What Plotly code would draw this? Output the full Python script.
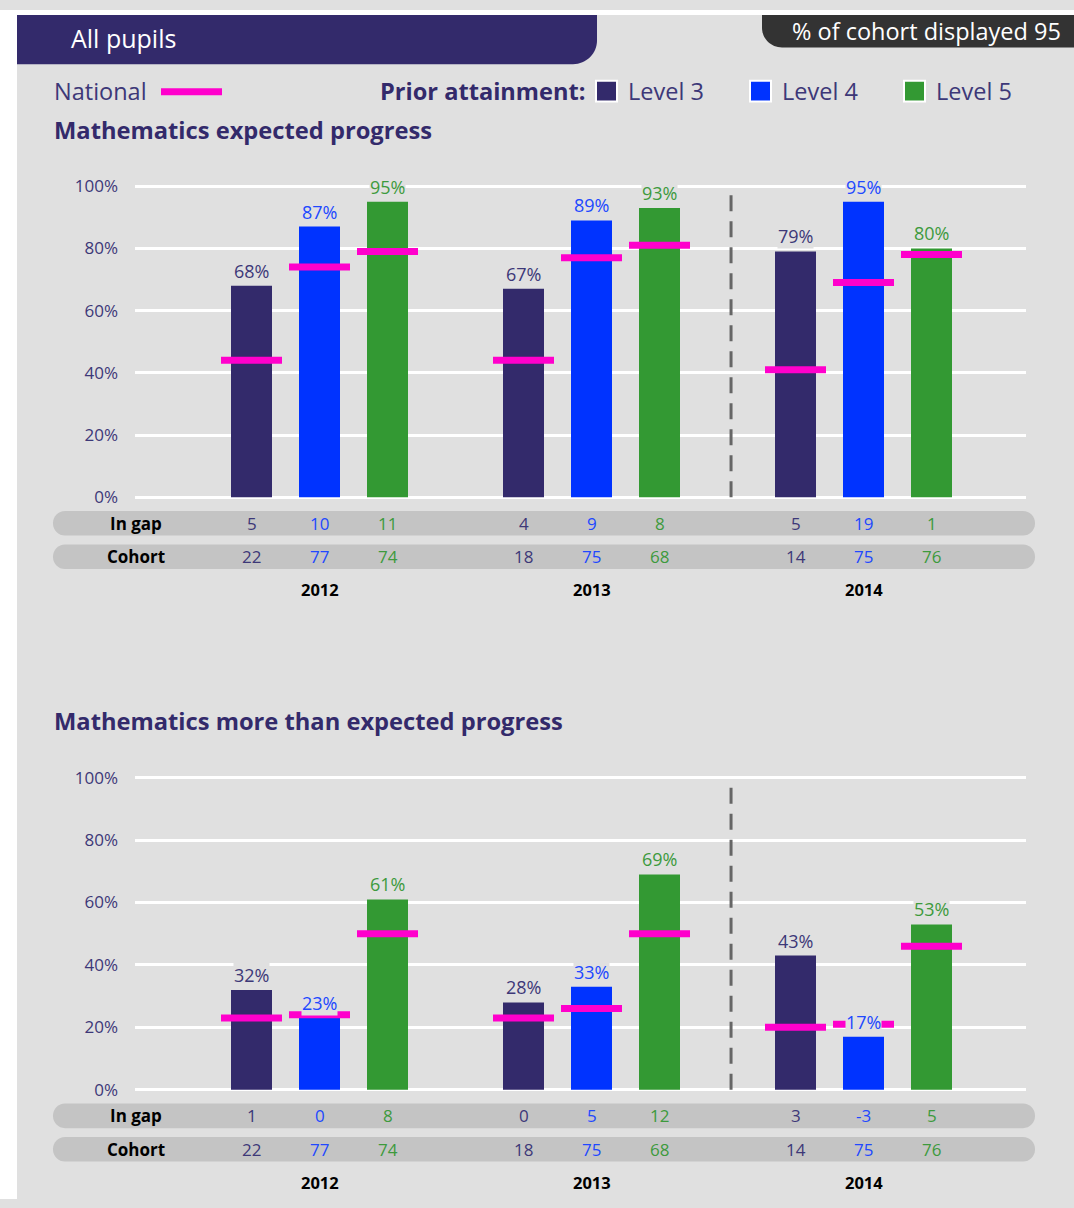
import plotly.graph_objects as go

W, H = 1074, 1208

# ---------------- data ----------------
years = ["2012", "2013", "2014"]
levels = ["Level 3", "Level 4", "Level 5"]

exp_pct = {"Level 3": [68, 67, 79], "Level 4": [87, 89, 95], "Level 5": [95, 93, 80]}
exp_nat = {"Level 3": [44, 44, 41], "Level 4": [74, 77, 69], "Level 5": [79, 81, 78]}
exp_gap = {"Level 3": [5, 4, 5], "Level 4": [10, 9, 19], "Level 5": [11, 8, 1]}

more_pct = {"Level 3": [32, 28, 43], "Level 4": [23, 33, 17], "Level 5": [61, 69, 53]}
more_nat = {"Level 3": [23, 23, 20], "Level 4": [24, 26, 21], "Level 5": [50, 50, 46]}
more_gap = {"Level 3": [1, 0, 3], "Level 4": [0, 5, -3], "Level 5": [8, 12, 5]}

cohort = {"Level 3": [22, 18, 14], "Level 4": [77, 75, 75], "Level 5": [74, 68, 76]}

y_ticks = [0, 20, 40, 60, 80, 100]
header_title = "All pupils"
cohort_note = "% of cohort displayed 95"
titles = ["Mathematics expected progress", "Mathematics more than expected progress"]

# ---------------- style ----------------
colors = {"Level 3": "#332a6b", "Level 4": "#0033ff", "Level 5": "#339933"}
text_colors = {"Level 3": "#3d3878", "Level 4": "#2148ff", "Level 5": "#3d9a3d"}
MAGENTA = "#ff00cc"
PANEL = "#e0e0e0"
PILL = "#c4c4c4"
PURPLE = "#332a6b"
LABEL = "#3d3878"
FONT = "Open Sans"

offsets = {"Level 3": -0.25, "Level 4": 0.0, "Level 5": 0.25}
BAR_W = 41 / 272
NAT_HALF = 30.5 / 272


def px(x):
    return x / W


def py(y):
    return 1 - y / H


def rr_path(x0, y0, x1, y1, tl=0, tr=0, br=0, bl=0):
    k = 0.5523

    def P(x, y):
        return f"{px(x):.5f},{py(y):.5f}"

    s = f"M{P(x0 + tl, y0)} L{P(x1 - tr, y0)} "
    s += f"C{P(x1 - tr + k * tr, y0)} {P(x1, y0 + tr - k * tr)} {P(x1, y0 + tr)} "
    s += f"L{P(x1, y1 - br)} "
    s += f"C{P(x1, y1 - br + k * br)} {P(x1 - br + k * br, y1)} {P(x1 - br, y1)} "
    s += f"L{P(x0 + bl, y1)} "
    s += f"C{P(x0 + bl - k * bl, y1)} {P(x0, y1 - bl + k * bl)} {P(x0, y1 - bl)} "
    s += f"L{P(x0, y0 + tl)} "
    s += f"C{P(x0, y0 + tl - k * tl)} {P(x0 + tl - k * tl, y0)} {P(x0 + tl, y0)} Z"
    return s


fig = go.Figure()
shapes = []
annotations = []

# white page strips outside the grey panel
shapes.append(dict(type="rect", xref="paper", yref="paper", x0=0, x1=1, y0=py(5), y1=1,
                   fillcolor="white", line_width=0, layer="below"))
shapes.append(dict(type="rect", xref="paper", yref="paper", x0=0, x1=px(17), y0=0, y1=1,
                   fillcolor="white", line_width=0, layer="below"))

# header boxes
shapes.append(dict(type="path", xref="paper", yref="paper",
                   path=rr_path(17, 5, 597, 55, br=24), fillcolor=PURPLE, line_width=0, layer="below"))
shapes.append(dict(type="path", xref="paper", yref="paper",
                   path=rr_path(762, 5, 1074, 38, bl=20), fillcolor="#333333", line_width=0, layer="below"))
annotations.append(dict(xref="paper", yref="paper", x=px(69), y=py(28), xanchor="left", yanchor="middle",
                        text=header_title, showarrow=False, font=dict(family=FONT, size=25, color="white")))
annotations.append(dict(xref="paper", yref="paper", x=px(1063), y=py(21), xanchor="right", yanchor="middle",
                        text=cohort_note, showarrow=False, font=dict(family=FONT, size=23.5, color="white")))

# legend row
annotations.append(dict(xref="paper", yref="paper", x=px(52), y=py(82), xanchor="left", yanchor="middle",
                        text="National", showarrow=False, font=dict(family=FONT, size=23.5, color=LABEL)))
shapes.append(dict(type="line", xref="paper", yref="paper", x0=px(161), x1=px(222), y0=py(83), y1=py(83),
                   line=dict(color=MAGENTA, width=7)))
annotations.append(dict(xref="paper", yref="paper", x=px(378), y=py(82), xanchor="left", yanchor="middle",
                        text="<b>Prior attainment:</b>", showarrow=False,
                        font=dict(family=FONT, size=23.6, color=PURPLE)))
for lv, sx in zip(levels, [596, 750, 904]):
    shapes.append(dict(type="rect", xref="paper", yref="paper", x0=px(sx), x1=px(sx + 21),
                       y0=py(93), y1=py(72), fillcolor=colors[lv], line=dict(color="white", width=2)))
    annotations.append(dict(xref="paper", yref="paper", x=px(sx + 30), y=py(82), xanchor="left",
                            yanchor="middle", text=lv, showarrow=False,
                            font=dict(family=FONT, size=23.5, color=LABEL)))

# two charts
charts = [
    dict(pct=exp_pct, nat=exp_nat, gap=exp_gap, dy=0, xa="x", ya="y"),
    dict(pct=more_pct, nat=more_nat, gap=more_gap, dy=602, xa="x2", ya="y2"),
]

x_range = [(135 - 319.5) / 272, (1026 - 319.5) / 272]
pad = 0.6

for ci, ch in enumerate(charts):
    dy = ch["dy"]
    xa, ya = ch["xa"], ch["ya"]
    zero_px = 495 + dy
    top_px = 179 + dy - (1 if ci == 1 else 0)
    ppu = (zero_px - top_px) / 100.0
    dom = [py(zero_px + pad * ppu), py(top_px - pad * ppu)]

    ax_suffix = "" if ci == 0 else "2"
    fig.layout["xaxis" + ax_suffix] = dict(domain=[px(135), px(1026)], range=x_range, anchor=ya,
                                          showgrid=False, zeroline=False, showticklabels=False,
                                          fixedrange=True)
    fig.layout["yaxis" + ax_suffix] = dict(domain=dom, range=[-pad, 100 + pad], anchor=xa,
                                          tickvals=y_ticks, ticktext=[f"{v}%" for v in y_ticks],
                                          showgrid=True, gridcolor="white", gridwidth=3,
                                          zeroline=False, ticks="", ticklabelstandoff=16,
                                          tickfont=dict(family=FONT, size=17, color=LABEL),
                                          fixedrange=True)

    # bars
    for lv in levels:
        xs = [i + offsets[lv] for i in range(len(years))]
        fig.add_trace(go.Bar(x=xs, y=ch["pct"][lv], width=BAR_W, marker=dict(color=colors[lv], line_width=0),
                             xaxis=xa, yaxis=ya, showlegend=False, hoverinfo="skip"))
    # national markers
    for lv in levels:
        nx, ny = [], []
        for i in range(len(years)):
            c = i + offsets[lv]
            nx += [c - NAT_HALF, c + NAT_HALF, None]
            ny += [ch["nat"][lv][i], ch["nat"][lv][i], None]
        fig.add_trace(go.Scatter(x=nx, y=ny, mode="lines", line=dict(color=MAGENTA, width=7),
                                 xaxis=xa, yaxis=ya, showlegend=False, hoverinfo="skip"))
    # value labels
    for lv in levels:
        for i in range(len(years)):
            v = ch["pct"][lv][i]
            annotations.append(dict(xref=xa, yref=ya, x=i + offsets[lv], y=v, yanchor="bottom",
                                    yshift=2, text=f"{v}%", showarrow=False, bgcolor=PANEL, borderpad=0,
                                    font=dict(family=FONT, size=18, color=text_colors[lv])))
    # dashed divider
    shapes.append(dict(type="line", xref=xa, yref=ya, x0=1.513, x1=1.513, y0=0, y1=100,
                       line=dict(color="#666666", width=3, dash="16px,10px")))

    # section title
    annotations.append(dict(xref="paper", yref="paper", x=px(52), y=py(122 + dy - 2 * ci), xanchor="left",
                            yanchor="middle", text=f"<b>{titles[ci]}</b>", showarrow=False,
                            font=dict(family=FONT, size=23.7, color=PURPLE)))

    # table rows
    for ri, (rname, rdata) in enumerate([("In gap", ch["gap"]), ("Cohort", cohort)]):
        top = 509 + dy + ri * 34
        bot = top + 25
        shapes.append(dict(type="path", xref="paper", yref="paper",
                           path=rr_path(53, top, 1035, bot, 12, 12, 12, 12),
                           fillcolor=PILL, line_width=0, layer="below"))
        yc = py((top + bot) / 2)
        annotations.append(dict(xref="paper", yref="paper", x=px(136), y=yc, xanchor="center",
                                yanchor="middle", text=f"<b>{rname}</b>", showarrow=False,
                                font=dict(family=FONT, size=17, color="black")))
        for lv in levels:
            for i in range(len(years)):
                annotations.append(dict(xref=xa, yref="paper", x=i + offsets[lv], y=yc, xanchor="center",
                                        yanchor="middle", text=str(rdata[lv][i]), showarrow=False,
                                        font=dict(family=FONT, size=17, color=text_colors[lv])))
    # year labels
    for i, yr in enumerate(years):
        annotations.append(dict(xref=xa, yref="paper", x=i, y=py(589 + dy), xanchor="center",
                                yanchor="middle", text=f"<b>{yr}</b>", showarrow=False,
                                font=dict(family=FONT, size=16.5, color="black")))

fig.update_layout(
    width=W, height=H, margin=dict(l=0, r=0, t=0, b=0, pad=0),
    paper_bgcolor=PANEL, plot_bgcolor=PANEL,
    shapes=shapes, annotations=annotations, showlegend=False,
    barmode="overlay", font=dict(family=FONT),
)

post = """
var gd = document.getElementById('{plot_id}');
var h = document.documentElement, b = document.body;
[h, b].forEach(function(e){ e.style.margin='0'; e.style.padding='0'; e.style.overflow='hidden';
  e.style.background='#ffffff'; });
gd.style.position='fixed'; gd.style.left='0px'; gd.style.top='0px';
window.scrollTo(0, 0);
"""

fig.write_html("out.html", config={"displayModeBar": False}, post_script=post)
